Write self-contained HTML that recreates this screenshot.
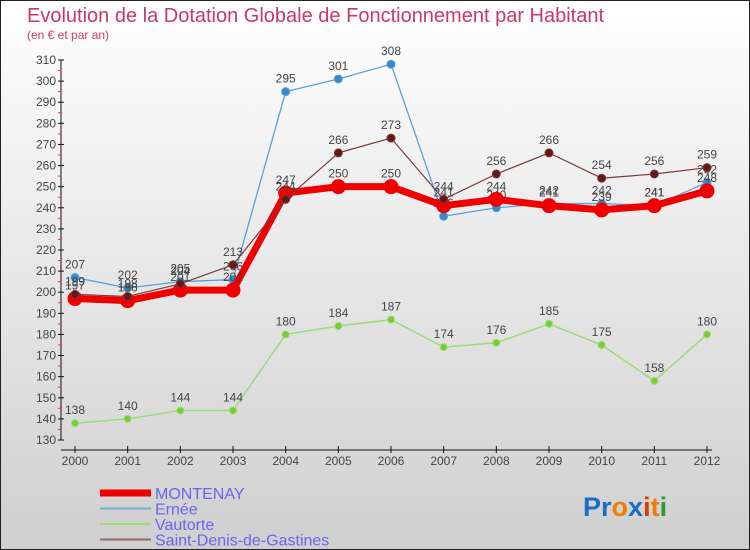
<!DOCTYPE html>
<html><head><meta charset="utf-8"><style>
body{margin:0;}
svg{display:block;font-family:"Liberation Sans",sans-serif;}
</style></head><body>
<svg id="chart" width="750" height="550" xmlns="http://www.w3.org/2000/svg">
<defs><linearGradient id="bg" x1="0" y1="0" x2="0" y2="1"><stop offset="0" stop-color="#ffffff"/><stop offset="1" stop-color="#cfcfcf"/></linearGradient></defs>
<rect x="0.5" y="0.5" width="749" height="549" fill="url(#bg)" stroke="#222"/>
<text x="27" y="22" font-size="20" fill="#c8386a">Evolution de la Dotation Globale de Fonctionnement par Habitant</text>
<text x="27" y="39" font-size="12" fill="#c8386a">(en € et par an)</text>
<g id="axes"></g>
<g id="series"></g>
<g id="legend"></g>
<text x="583" y="516" font-size="27" font-weight="bold"><tspan fill="#1a6fc4">Pr</tspan><tspan fill="#f07d00">o</tspan><tspan fill="#1a6fc4">x</tspan><tspan fill="#e03a00">i</tspan><tspan fill="#f07d00">t</tspan><tspan fill="#2a9a3a">i</tspan></text>
</svg>
<script>
const years=["2000","2001","2002","2003","2004","2005","2006","2007","2008","2009","2010","2011","2012"];
const montenay=[197,196,201,201,247,250,250,241,244,241,239,241,248];
const ernee=[207,202,205,206,295,301,308,236,240,242,242,241,252];
const vautorte=[138,140,144,144,180,184,187,174,176,185,175,158,180];
const stdenis=[199,198,204,213,244,266,273,244,256,266,254,256,259];
const yTicks=[130,140,150,160,170,180,190,200,210,220,230,240,250,260,270,280,290,300,310];
const NS="http://www.w3.org/2000/svg";
const x=i=>75+i*(707-75)/12;
const y=v=>440-(v-130)*(380/180);
function mk(t,a,p){const e=document.createElementNS(NS,t);for(const k in a)e.setAttribute(k,a[k]);p.appendChild(e);return e;}
const ax=document.getElementById('axes');
const yl=mk('line',{x1:61,y1:60,x2:61,y2:440,stroke:'#111'},ax);


yTicks.forEach(v=>{
 mk('line',{x1:58,x2:64,y1:y(v),y2:y(v),stroke:'#111'},ax);
 if(v<310)mk('line',{x1:58,x2:61,y1:y(v+5),y2:y(v+5),stroke:'#e33'},ax);
 const t=mk('text',{x:56,y:y(v)+4,'font-size':12,fill:'#444','text-anchor':'end'},ax);t.textContent=v;
 
 
});
const xl=mk('line',{x1:61,y1:450,x2:712,y2:450,stroke:'#111'},ax);


years.forEach((yr,i)=>{
 mk('line',{x1:x(i),x2:x(i),y1:446,y2:453,stroke:'#111'},ax);
 const t=mk('text',{x:x(i),y:465,'font-size':12,fill:'#444','text-anchor':'middle'},ax);t.textContent=yr;
 
 
});
const sg=document.getElementById('series');
function series(data,name,color,dot,w,r,labels){
 const g=mk('g',{},sg);
 
 
 const p=mk('polyline',{points:data.map((v,i)=>x(i)+','+y(v)).join(' '),fill:'none',stroke:color,'stroke-width':w,'stroke-linejoin':'round'},g);
 
 
 data.forEach((v,i)=>{
  const c=mk('circle',{cx:x(i),cy:y(v),r:r,fill:dot,stroke:color,'stroke-width':1},g);
  
  
  if(labels){const t=mk('text',{x:x(i),y:y(v)-9,'font-size':12,fill:'#444','text-anchor':'middle'},g);t.textContent=v;
  
  }
 });
}
series(vautorte,'vautorte','#99dd77','#77cc33',1.5,3.5,true);
series(ernee,'ernee','#5aa0d8','#3a88cc',1.3,4,true);
series(montenay,'montenay','#ee0000','#ee0000',7,7,true);
series(stdenis,'saint-denis','#7a3a3a','#661818',1.2,4,true);
const lg=document.getElementById('legend');
const items=[['MONTENAY','#ee0000',7],['Ernée','#7aaad0',2],['Vautorte','#99dd77',2],['Saint-Denis-de-Gastines','#946666',2]];
items.forEach((it,i)=>{
 const yy=493+i*15.5;
 const g=mk('g',{},lg);
 
 
 mk('line',{x1:100,x2:151,y1:yy,y2:yy,stroke:it[1],'stroke-width':it[2]},g);
 const t=mk('text',{x:155,y:yy+6,'font-size':16,fill:'#6666ee'},g);t.textContent=it[0];
});
</script>
</body></html>
